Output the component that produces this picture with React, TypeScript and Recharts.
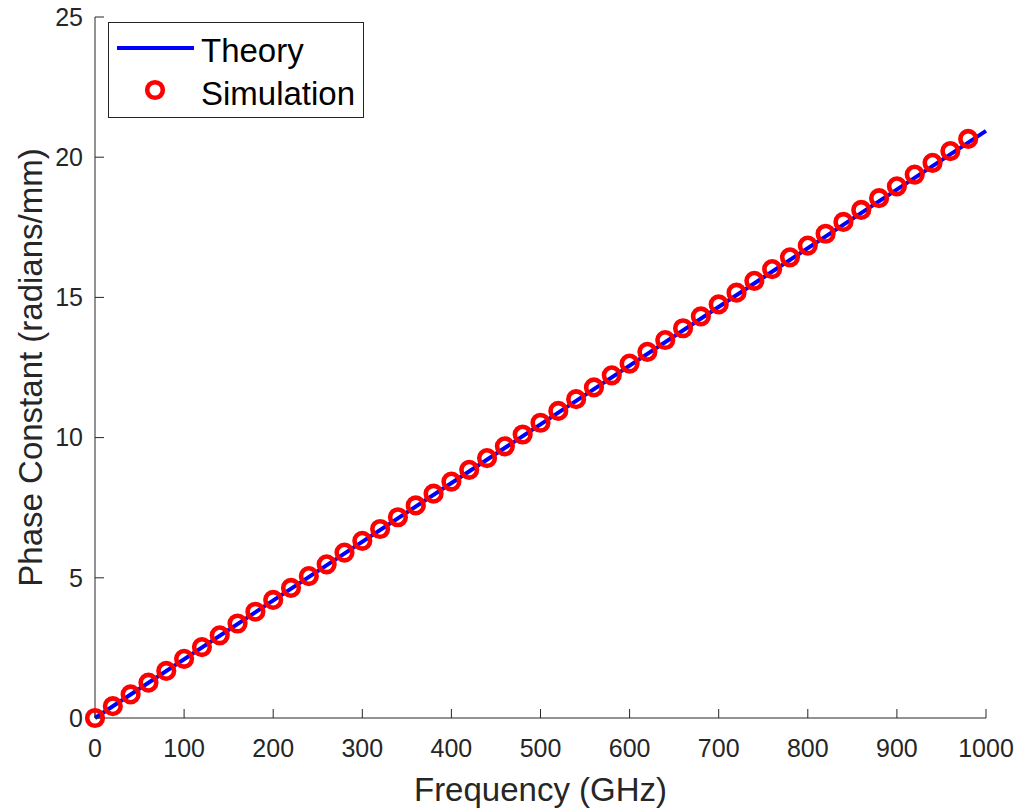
import { ComposedChart, Line, Scatter, XAxis, YAxis, Legend, Label } from "recharts";

// frequency in GHz of each simulated point
const simFreq = [
  0, 20, 40, 60, 80, 100, 120, 140, 160, 180,
  200, 220, 240, 260, 280, 300, 320, 340, 360, 380,
  400, 420, 440, 460, 480, 500, 520, 540, 560, 580,
  600, 620, 640, 660, 680, 700, 720, 740, 760, 780,
  800, 820, 840, 860, 880, 900, 920, 940, 960, 980,
];

// phase constant (radians/mm)
const simBeta = [
  0, 0.42, 0.84, 1.26, 1.68, 2.11, 2.53, 2.95, 3.37, 3.79,
  4.21, 4.64, 5.06, 5.48, 5.9, 6.32, 6.74, 7.16, 7.58, 8.0,
  8.43, 8.85, 9.27, 9.69, 10.11, 10.53, 10.95, 11.37, 11.79, 12.22,
  12.64, 13.06, 13.48, 13.9, 14.32, 14.75, 15.17, 15.59, 16.01, 16.43,
  16.85, 17.27, 17.69, 18.12, 18.54, 18.96, 19.38, 19.8, 20.22, 20.65,
];

// theory curve (straight line)
const theoryFreq = [0, 250, 500, 750, 1000];
const theoryBeta = [0, 5.24, 10.47, 15.71, 20.94];

const xTicks = [0, 100, 200, 300, 400, 500, 600, 700, 800, 900, 1000];
const yTicks = [0, 5, 10, 15, 20, 25];

const simData = simFreq.map((f, i) => ({ f, beta: simBeta[i] }));
const theoryData = theoryFreq.map((f, i) => ({ f, beta: theoryBeta[i] }));

const FONT = "'Liberation Sans', Arial, Helvetica, sans-serif";
const AXIS = "#262626";

const tickStyle = { fontSize: 25, fill: AXIS, fontFamily: FONT };
const noLabel = () => "";

const RingMarker = (props: any) => {
  const { cx, cy } = props;
  if (cx == null || cy == null) return null;
  return <circle cx={cx} cy={cy} r={7.8} fill="none" stroke="#ff0000" strokeWidth={4.6} />;
};

const LegendBox = () => (
  <svg width={256} height={96} style={{ display: "block" }}>
    <rect x={0.5} y={0.5} width={255} height={95} fill="#ffffff" stroke={AXIS} strokeWidth={1} />
    <line x1={9} y1={26} x2={86} y2={26} stroke="#0000ff" strokeWidth={4} />
    <circle cx={47} cy={68} r={7.8} fill="none" stroke="#ff0000" strokeWidth={4.6} />
    <text x={93} y={40} fontSize={33} fontFamily={FONT} fill="#000">Theory</text>
    <text x={93} y={83} fontSize={33} fontFamily={FONT} fill="#000">Simulation</text>
  </svg>
);

export default function App() {
  return (
    <div style={{ position: "absolute", left: 0, top: 0, background: "#fff" }}>
      <ComposedChart
        width={1021}
        height={808}
        margin={{ top: 17, right: 35, left: 0, bottom: 0 }}
        style={{ fontFamily: FONT }}
      >
        <XAxis
          xAxisId="bottom"
          type="number"
          dataKey="f"
          domain={[0, 1000]}
          ticks={xTicks}
          height={90}
          tickSize={-9}
          tickMargin={30}
          tick={tickStyle}
          stroke={AXIS}
          axisLine={{ stroke: AXIS, strokeWidth: 1 }}
          tickLine={{ stroke: AXIS, strokeWidth: 1 }}
        >
          <Label
            value="Frequency (GHz)"
            position="center"
            dy={26}
            style={{ fontSize: 33, fill: AXIS, fontFamily: FONT }}
          />
        </XAxis>
        <XAxis
          xAxisId="top"
          orientation="top"
          type="number"
          dataKey="f"
          domain={[0, 1000]}
          ticks={xTicks}
          height={0}
          tickSize={-9}
          tickFormatter={noLabel}
          stroke={AXIS}
          axisLine={{ stroke: AXIS, strokeWidth: 1 }}
          tickLine={{ stroke: AXIS, strokeWidth: 1 }}
        />
        <YAxis
          yAxisId="left"
          type="number"
          domain={[0, 25]}
          ticks={yTicks}
          width={95}
          tickSize={-9}
          tickMargin={21}
          tick={tickStyle}
          stroke={AXIS}
          axisLine={{ stroke: AXIS, strokeWidth: 1 }}
          tickLine={{ stroke: AXIS, strokeWidth: 1 }}
        >
          <Label
            value="Phase Constant (radians/mm)"
            angle={-90}
            position="center"
            dx={-17}
            style={{ fontSize: 33, fill: AXIS, fontFamily: FONT, textAnchor: "middle" }}
          />
        </YAxis>
        <YAxis
          yAxisId="right"
          orientation="right"
          type="number"
          domain={[0, 25]}
          ticks={yTicks}
          width={0}
          tickSize={-9}
          tickFormatter={noLabel}
          stroke={AXIS}
          axisLine={{ stroke: AXIS, strokeWidth: 1 }}
          tickLine={{ stroke: AXIS, strokeWidth: 1 }}
        />
        <Line
          xAxisId="bottom"
          yAxisId="left"
          data={theoryData}
          dataKey="beta"
          type="linear"
          stroke="#0000ff"
          strokeWidth={4}
          dot={false}
          activeDot={false}
          isAnimationActive={false}
          name="Theory"
        />
        <Scatter
          xAxisId="bottom"
          yAxisId="left"
          data={simData}
          dataKey="beta"
          shape={<RingMarker />}
          isAnimationActive={false}
          name="Simulation"
        />
        <Legend
          layout="vertical"
          align="center"
          verticalAlign="middle"
          content={<LegendBox />}
          wrapperStyle={{ position: "absolute", left: 108, top: 22, width: 256, height: 96 }}
        />
      </ComposedChart>
    </div>
  );
}
